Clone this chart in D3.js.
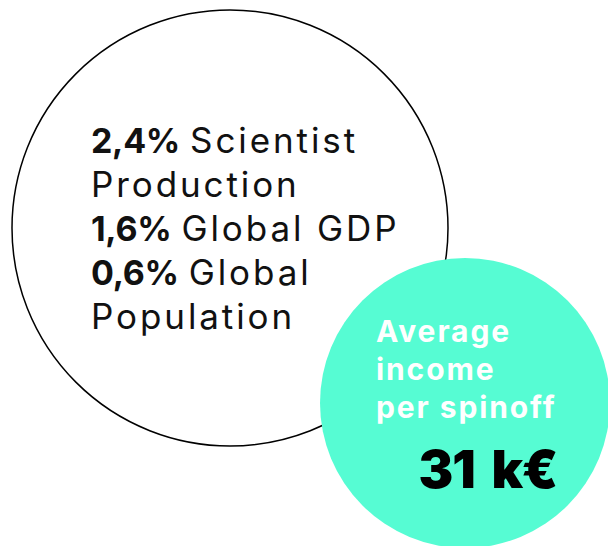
<!DOCTYPE html>
<html>
<head>
<meta charset="utf-8">
<script src="https://cdn.jsdelivr.net/npm/d3@7"></script>
<style>
  body { margin: 0; background: #fff; }
  text { font-family: Inter, "Open Sans", sans-serif; }
</style>
</head>
<body>
<svg id="canvas" width="608" height="546"></svg>
<script>
// share figures shown in the outlined bubble
const shareValues = ["2,4%", "1,6%", "0,6%"]
const shareLabels = [["Scientist", "Production"], ["Global GDP"], ["Global", "Population"]]

// the green bubble
const incomeLabel = ["Average", "income", "per spinoff"]
const incomeValue = "31 k€"

const svg = d3.select('#canvas')

// big outlined circle
svg.append('circle')
    .attr('cx', 230)
    .attr('cy', 228)
    .attr('r', 218)
    .attr('fill', 'none')
    .attr('stroke', '#000')
    .attr('stroke-width', 1.5)

// bold value + first label word on one line, the rest on own lines
let lines = []
shareValues.forEach((v, i) => {
    const parts = shareLabels[i]
    lines.push({bold: v, normal: parts[0]})
    parts.slice(1).forEach(p => lines.push({bold: '', normal: p}))
})

const y = d3.scaleLinear().domain([0, lines.length - 1]).range([153, 329])

const block = svg.append('g')
lines.forEach((line, i) => {
    const t = block.append('text')
        .attr('x', 91)
        .attr('y', y(i))
        .attr('fill', '#111')
    if (line.bold) {
        t.append('tspan')
            .attr('font-size', 34)
            .attr('font-weight', 700)
            .attr('letter-spacing', -0.3)
            .text(line.bold)
    }
    t.append('tspan')
        .attr('dx', line.bold ? 10 : 0)
        .attr('font-size', 35)
        .attr('font-weight', 400)
        .attr('letter-spacing', 2.9)
        .text(line.normal)
})

// green circle
svg.append('circle')
    .attr('cx', 465)
    .attr('cy', 403)
    .attr('r', 145)
    .attr('fill', '#56fcd3')

const y2 = d3.scaleLinear().domain([0, incomeLabel.length - 1]).range([342, 418])
svg.selectAll('.inc')
    .data(incomeLabel)
    .enter()
    .append('text')
    .attr('class', 'inc')
    .attr('x', 376)
    .attr('y', (d, i) => y2(i))
    .attr('font-size', 30)
    .attr('font-weight', 700)
    .attr('letter-spacing', 1.9)
    .attr('fill', '#fff')
    .text(d => d)

// big value, number and unit split so the gap can be widened
const valueParts = incomeValue.split(' ')
const big = svg.append('text')
    .attr('x', 557)
    .attr('y', 488)
    .attr('text-anchor', 'end')
    .attr('font-size', 52)
    .attr('font-weight', 900)
    .attr('letter-spacing', -1.2)
    .attr('fill', '#000')
big.append('tspan').text(valueParts[0])
big.append('tspan').attr('dx', 17).text(valueParts[1])
</script>
</body>
</html>
